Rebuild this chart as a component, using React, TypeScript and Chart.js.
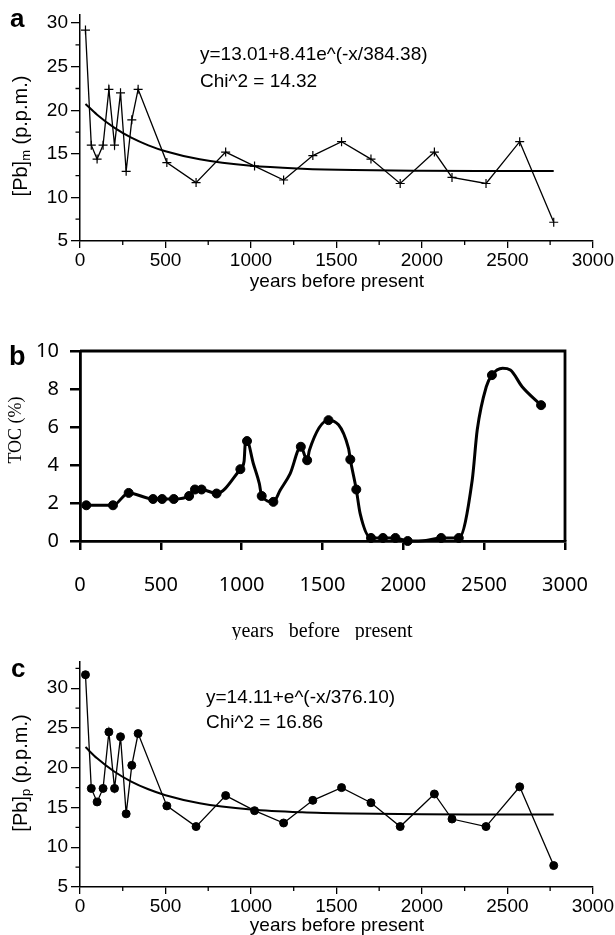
import React, { useEffect, useRef } from 'react';
import { Chart, registerables } from 'chart.js';

Chart.register(...registerables);

// ---------- data ----------
// sample ages (years before present) shared by panels a and c
const sampleYears = [32, 66, 100, 135, 169, 202, 237, 270, 303, 340, 508, 679, 852, 1021, 1191, 1362, 1530, 1702, 1873, 2073, 2176, 2375, 2572, 2771];
const pbM = [29.2, 16.0, 14.4, 16.0, 22.4, 16.0, 22.0, 13.0, 18.9, 22.4, 14.0, 11.7, 15.2, 13.6, 12.0, 14.8, 16.4, 14.4, 11.6, 15.2, 12.3, 11.6, 16.4, 7.15];
const pbP = [31.7, 17.4, 15.7, 17.4, 24.5, 17.4, 23.9, 14.2, 20.3, 24.3, 15.2, 12.6, 16.5, 14.6, 13.05, 15.9, 17.5, 15.6, 12.6, 16.7, 13.55, 12.6, 17.6, 7.7];

// fitted exponential curves
const fitYears = [32, 100, 200, 300, 400, 500, 700, 1000, 1300, 1600, 2000, 2400, 2771];
const fitM = [20.73, 19.49, 18.01, 16.86, 15.98, 15.3, 14.37, 13.63, 13.3, 13.14, 13.06, 13.03, 13.02];
const fitP = [22.6, 21.18, 19.53, 18.26, 17.29, 16.55, 15.54, 14.76, 14.4, 14.24, 14.15, 14.13, 14.12];

// panel b: TOC markers
const tocYears = [39, 204, 301, 452, 508, 580, 675, 711, 752, 845, 992, 1033, 1124, 1196, 1366, 1405, 1537, 1672, 1709, 1800, 1874, 1951, 2027, 2234, 2343, 2548, 2852];
const toc = [1.88, 1.88, 2.53, 2.21, 2.21, 2.21, 2.37, 2.71, 2.71, 2.5, 3.78, 5.26, 2.37, 2.06, 4.96, 4.25, 6.36, 4.29, 2.71, 0.16, 0.16, 0.16, 0.0, 0.16, 0.16, 8.73, 7.15];
// panel b: smoothed curve through the markers
const tocCurveYears = [39, 204, 301, 452, 508, 580, 675, 711, 752, 845, 992, 1015, 1022, 1033, 1072, 1109, 1124, 1196, 1238, 1300, 1366, 1405, 1419, 1537, 1661, 1672, 1709, 1733, 1800, 1874, 1951, 2027, 2140, 2234, 2343, 2426, 2457, 2513, 2548, 2614, 2662, 2735, 2852];
const tocCurve = [1.88, 1.88, 2.53, 2.21, 2.21, 2.21, 2.37, 2.71, 2.71, 2.5, 3.78, 4.2, 5.1, 5.26, 4.08, 3.03, 2.37, 2.06, 2.67, 3.55, 4.96, 4.25, 4.78, 6.36, 4.87, 4.29, 2.71, 1.44, 0.16, 0.16, 0.16, 0.0, 0.03, 0.16, 0.16, 3.2, 5.84, 8.12, 8.73, 9.09, 9.0, 8.12, 7.15];

const xMinorTicks = [250, 750, 1250, 1750, 2250, 2750];
const yMinorA = [7.5, 12.5, 17.5, 22.5, 27.5];
const yMinorC = [7.5, 12.5, 17.5, 22.5, 27.5, 32.5];

const eqA = 'y=13.01+8.41e^(-x/384.38)';
const chiA = 'Chi^2 = 14.32';
const eqC = 'y=14.11+e^(-x/376.10)';
const chiC = 'Chi^2 = 16.86';
const xTitle = 'years before present';

const SANS = '"Liberation Sans", Arial, sans-serif';
const SERIF = '"Liberation Serif", "Times New Roman", serif';
const NOTO = '"Noto Sans", "DejaVu Sans", sans-serif';

const pts = (xs: number[], ys: number[]) => xs.map((x, i) => ({ x, y: ys[i] }));
const fmt = (v: any) => String(v);

type TextItem = {
  text: string;
  x: number;
  y: number;
  font: string;
  align?: CanvasTextAlign;
  baseline?: CanvasTextBaseline;
  rotate?: boolean;
  wordSpacing?: string;
  sub?: { main: string; sub: string; rest: string; subFont: string };
};

function decorPlugin(cfg: {
  xMinor: number[];
  yMinor: number[];
  xMinorLen: number;
  yMinorLen: number;
  lw: number;
  box?: number;
  texts: TextItem[];
}) {
  return {
    id: 'decor',
    afterDraw(chart: any) {
      const ctx: CanvasRenderingContext2D = chart.ctx;
      const xs = chart.scales.x;
      const ys = chart.scales.y;
      const ca = chart.chartArea;
      ctx.save();
      ctx.strokeStyle = '#000';
      ctx.lineWidth = cfg.lw;
      ctx.beginPath();
      for (const v of cfg.xMinor) {
        const px = xs.getPixelForValue(v);
        ctx.moveTo(px, ca.bottom);
        ctx.lineTo(px, ca.bottom + cfg.xMinorLen);
      }
      for (const v of cfg.yMinor) {
        const py = ys.getPixelForValue(v);
        ctx.moveTo(ca.left, py);
        ctx.lineTo(ca.left - cfg.yMinorLen, py);
      }
      ctx.stroke();
      if (cfg.box) {
        ctx.lineWidth = cfg.box;
        ctx.beginPath();
        ctx.moveTo(ca.left, ca.top);
        ctx.lineTo(ca.right, ca.top);
        ctx.lineTo(ca.right, ca.bottom);
        ctx.stroke();
      }
      ctx.fillStyle = '#000';
      for (const t of cfg.texts) {
        ctx.save();
        ctx.font = t.font;
        ctx.textAlign = t.align || 'left';
        ctx.textBaseline = t.baseline || 'middle';
        (ctx as any).wordSpacing = t.wordSpacing || '0px';
        ctx.translate(t.x, t.y);
        if (t.rotate) ctx.rotate(-Math.PI / 2);
        if (t.sub) {
          const w1 = ctx.measureText(t.sub.main).width;
          const rest = ctx.measureText(t.sub.rest).width;
          ctx.font = t.sub.subFont;
          const w2 = ctx.measureText(t.sub.sub).width;
          const total = w1 + w2 + rest;
          const x0 = -total / 2;
          ctx.textAlign = 'left';
          ctx.font = t.font;
          ctx.fillText(t.sub.main, x0, 0);
          ctx.font = t.sub.subFont;
          ctx.fillText(t.sub.sub, x0 + w1, 5);
          ctx.font = t.font;
          ctx.fillText(t.sub.rest, x0 + w1 + w2, 0);
        } else {
          ctx.fillText(t.text, 0, 0);
        }
        ctx.restore();
      }
      ctx.restore();
    },
  };
}

function pbConfig(
  samples: number[],
  fit: number[],
  marker: 'cross' | 'circle',
  yMax: number,
  canvasH: number,
  bottom: number,
  top: number,
  plugin: any
) {
  return {
    type: 'line',
    data: {
      datasets: [
        {
          data: pts(fitYears, fit),
          borderColor: '#000',
          borderWidth: 2,
          pointRadius: 0,
          cubicInterpolationMode: 'monotone',
          fill: false,
        },
        {
          data: pts(sampleYears, samples),
          borderColor: '#000',
          backgroundColor: '#000',
          borderWidth: 1.3,
          pointStyle: marker,
          pointRadius: marker === 'cross' ? 4.5 : 4,
          pointBorderWidth: marker === 'cross' ? 1.2 : 1,
          pointBorderColor: '#000',
          pointBackgroundColor: '#000',
          tension: 0,
          fill: false,
          clip: false,
        },
      ],
    },
    options: {
      responsive: false,
      animation: false,
      devicePixelRatio: 1,
      layout: { padding: { left: 0, right: 21, top, bottom: 0 } },
      plugins: { legend: { display: false }, tooltip: { enabled: false }, title: { display: false } },
      scales: {
        x: {
          type: 'linear',
          min: 0,
          max: 3000,
          afterFit: (s: any) => {
            s.height = canvasH - bottom;
          },
          ticks: {
            stepSize: 500,
            includeBounds: false,
            autoSkip: false,
            maxRotation: 0,
            color: '#000',
            padding: 1,
            font: { family: SANS, size: 19 },
            callback: fmt,
          },
          grid: { drawOnChartArea: false, tickLength: 7, color: '#000', lineWidth: 1.3 },
          border: { display: true, color: '#000', width: 1.5 },
        },
        y: {
          type: 'linear',
          min: 5,
          max: yMax,
          afterFit: (s: any) => {
            s.width = 80;
          },
          ticks: {
            stepSize: 5,
            includeBounds: false,
            autoSkip: false,
            color: '#000',
            padding: 3,
            font: { family: SANS, size: 19 },
            callback: fmt,
          },
          grid: { drawOnChartArea: false, tickLength: 9, color: '#000', lineWidth: 1.3 },
          border: { display: true, color: '#000', width: 1.5 },
        },
      },
    },
    plugins: [plugin],
  };
}

function tocConfig(canvasH: number, bottom: number, plugin: any) {
  return {
    type: 'line',
    data: {
      datasets: [
        {
          data: pts(tocCurveYears, tocCurve),
          borderColor: '#000',
          borderWidth: 3,
          pointRadius: 0,
          cubicInterpolationMode: 'monotone',
          fill: false,
          clip: false,
        },
        {
          data: pts(tocYears, toc),
          showLine: false,
          pointStyle: 'circle',
          pointRadius: 4.5,
          pointBackgroundColor: '#000',
          pointBorderColor: '#000',
          pointBorderWidth: 1,
          clip: false,
        },
      ],
    },
    options: {
      responsive: false,
      animation: false,
      devicePixelRatio: 1,
      layout: { padding: { left: 0, right: 50, top: 51, bottom: 0 } },
      plugins: { legend: { display: false }, tooltip: { enabled: false } },
      scales: {
        x: {
          type: 'linear',
          min: 0,
          max: 3000,
          afterFit: (s: any) => {
            s.height = canvasH - bottom;
          },
          ticks: {
            stepSize: 500,
            includeBounds: false,
            autoSkip: false,
            maxRotation: 0,
            color: '#000',
            padding: 23,
            font: { family: NOTO, size: 20 },
            callback: fmt,
          },
          grid: { drawOnChartArea: false, tickLength: 9, color: '#000', lineWidth: 2.5 },
          border: { display: true, color: '#000', width: 2.8 },
        },
        y: {
          type: 'linear',
          min: 0,
          max: 10,
          afterFit: (s: any) => {
            s.width = 80;
          },
          ticks: {
            stepSize: 2,
            includeBounds: false,
            autoSkip: false,
            color: '#000',
            padding: 11,
            font: { family: NOTO, size: 20 },
            callback: fmt,
          },
          grid: { drawOnChartArea: false, tickLength: 10, color: '#000', lineWidth: 2.5 },
          border: { display: true, color: '#000', width: 2.8 },
        },
      },
    },
    plugins: [plugin],
  };
}

const A_H = 300;
const B_H = 340;
const C_H = 295;

export default function App() {
  const refA = useRef<HTMLCanvasElement>(null);
  const refB = useRef<HTMLCanvasElement>(null);
  const refC = useRef<HTMLCanvasElement>(null);

  useEffect(() => {
    const plugA = decorPlugin({
      xMinor: xMinorTicks,
      yMinor: yMinorA,
      xMinorLen: 4,
      yMinorLen: 4.5,
      lw: 1.3,
      texts: [
        { text: 'a', x: 10, y: 27, font: `bold 26px ${SANS}`, baseline: 'alphabetic' },
        { text: eqA, x: 200, y: 55, font: `19px ${SANS}` },
        { text: chiA, x: 200, y: 82, font: `19px ${SANS}` },
        { text: xTitle, x: 337, y: 282, font: `19px ${SANS}`, align: 'center' },
        {
          text: '',
          x: 21,
          y: 136,
          font: `20px ${SANS}`,
          rotate: true,
          sub: { main: '[Pb]', sub: 'm', rest: ' (p.p.m.)', subFont: `13px ${SANS}` },
        },
      ],
    });
    const plugB = decorPlugin({
      xMinor: [],
      yMinor: [],
      xMinorLen: 0,
      yMinorLen: 0,
      lw: 2.5,
      box: 2.8,
      texts: [
        { text: 'b', x: 9, y: 65, font: `bold 27px ${SANS}`, baseline: 'alphabetic' },
        { text: 'TOC (%)', x: 16, y: 130, font: `18px ${SERIF}`, align: 'center', rotate: true },
        { text: xTitle, x: 322, y: 332, font: `20px ${SERIF}`, align: 'center', wordSpacing: '10px' },
      ],
    });
    const plugC = decorPlugin({
      xMinor: xMinorTicks,
      yMinor: yMinorC,
      xMinorLen: 4,
      yMinorLen: 4.5,
      lw: 1.3,
      texts: [
        { text: 'c', x: 11, y: 37, font: `bold 26px ${SANS}`, baseline: 'alphabetic' },
        { text: eqC, x: 206, y: 58, font: `19px ${SANS}` },
        { text: chiC, x: 206, y: 83, font: `19px ${SANS}` },
        { text: xTitle, x: 337, y: 286, font: `19px ${SANS}`, align: 'center' },
        {
          text: '',
          x: 21,
          y: 133,
          font: `20px ${SANS}`,
          rotate: true,
          sub: { main: '[Pb]', sub: 'p', rest: ' (p.p.m.)', subFont: `13px ${SANS}` },
        },
      ],
    });

    const cA = new Chart(refA.current as any, pbConfig(pbM, fitM, 'cross', 31, A_H, 241, 12, plugA) as any);
    const cB = new Chart(refB.current as any, tocConfig(B_H, 241, plugB) as any);
    const cC = new Chart(refC.current as any, pbConfig(pbP, fitP, 'circle', 33.3, C_H, 247, 22, plugC) as any);
    return () => {
      cA.destroy();
      cB.destroy();
      cC.destroy();
    };
  }, []);

  const canvasStyle = (top: number, h: number): React.CSSProperties => ({
    position: 'absolute',
    left: 0,
    top,
    width: 615,
    height: h,
  });

  return (
    <div style={{ position: 'absolute', left: 0, top: 0, width: 615, height: 935, background: '#fff', overflow: 'hidden' }}>
      <canvas ref={refA} width={615} height={A_H} style={canvasStyle(0, A_H)} />
      <canvas ref={refB} width={615} height={B_H} style={canvasStyle(300, B_H)} />
      <canvas ref={refC} width={615} height={C_H} style={canvasStyle(640, C_H)} />
    </div>
  );
}
